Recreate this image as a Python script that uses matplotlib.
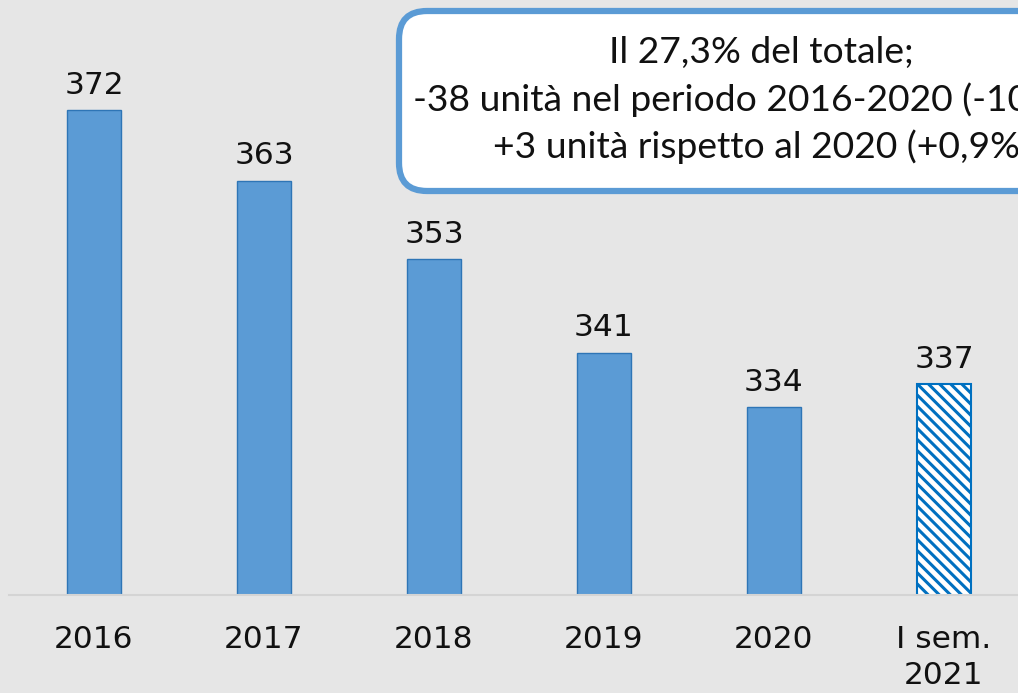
import matplotlib.pyplot as plt
from matplotlib.patches import FancyBboxPatch

categories = ['2016', '2017', '2018', '2019', '2020', 'I sem.\n2021']
values = [372, 363, 353, 341, 334, 337]
box_lines = ['Il 27,3% del totale;',
             '-38 unità nel periodo 2016-2020 (-10,2%);',
             '+3 unità rispetto al 2020 (+0,9%)']

bg = '#e6e6e6'
blue = '#5b9bd5'
edge = '#2e75b6'

plt.rcParams['hatch.linewidth'] = 2.2

fig = plt.figure(figsize=(10.18, 6.93), dpi=100, facecolor=bg)
ax = fig.add_axes([9 / 1018, 98 / 693, 1020 / 1018, 595 / 693])
ax.set_facecolor(bg)

x = list(range(len(categories)))
bars = ax.bar(x[:-1], values[:-1], width=0.32, color=blue, edgecolor=edge, linewidth=1)
hbar = ax.bar(x[-1], values[-1], width=0.32, color='white', edgecolor='#0070c0',
              hatch='\\\\\\', linewidth=1.5)

for xi, v in zip(x, values):
    ax.text(xi, v + 1.3, str(v), ha='center', va='bottom', fontsize=22.5, color='#111111')

ax.set_xlim(-0.5, 5.5)
ax.set_ylim(310, 386.1)
ax.set_yticks([])
ax.set_xticks(x)
ax.set_xticklabels(categories, fontsize=22.5, linespacing=1.32)
ax.tick_params(axis='x', length=0, pad=21.5, colors='#111111')
for s in ['top', 'right', 'left']:
    ax.spines[s].set_visible(False)
ax.spines['bottom'].set_color('#d4d4d4')
ax.spines['bottom'].set_linewidth(1.5)

# annotation box, runs off the right edge
box = FancyBboxPatch((3.99, 5.02), 7.3, 1.8,
                     boxstyle='round,pad=0,rounding_size=0.28',
                     transform=fig.dpi_scale_trans, facecolor='white',
                     edgecolor=blue, linewidth=4.5, clip_on=False)
fig.patches.append(box)
for i, line in enumerate(box_lines):
    fig.text(761 / 1018, 1 - (52 + 47.5 * i) / 693, line, ha='center', va='center',
             fontsize=26.8, family='Lato', color='#111111')

fig.savefig('out.png', dpi=100, facecolor=bg)
